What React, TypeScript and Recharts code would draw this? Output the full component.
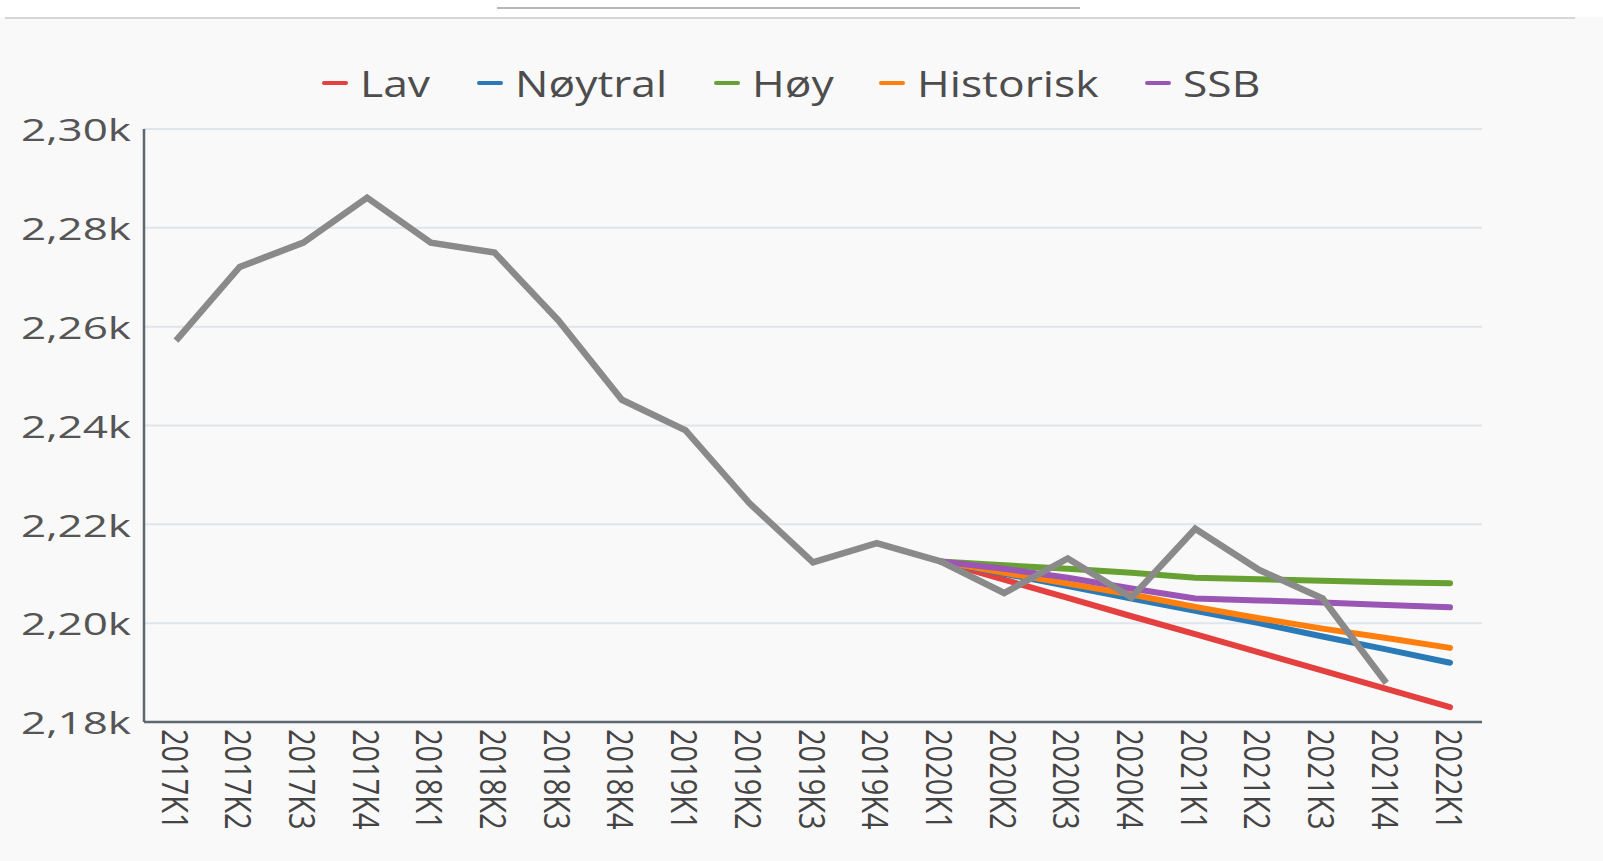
import { LineChart, Line, XAxis, YAxis, CartesianGrid } from "recharts";

const quarters = [
  "2017K1", "2017K2", "2017K3", "2017K4",
  "2018K1", "2018K2", "2018K3", "2018K4",
  "2019K1", "2019K2", "2019K3", "2019K4",
  "2020K1", "2020K2", "2020K3", "2020K4",
  "2021K1", "2021K2", "2021K3", "2021K4",
  "2022K1",
];

// observed values, ends at 2021K4
const actual = [
  2257.2, 2272.1, 2277, 2286.1, 2277, 2275, 2261.3, 2245.2, 2239, 2224.3,
  2212.3, 2216.2, 2212.5, 2206.1, 2213.1, 2205.2, 2219.1, 2210.8, 2205,
  2187.9, null,
];

// scenarios start at 2020K1
const lav = [2212.5, 2208.8, 2205.1, 2201.4, 2197.8, 2194.1, 2190.4, 2186.7, 2183.0];
const noytral = [2212.5, 2210, 2207.5, 2205, 2202.5, 2200, 2197.3, 2194.7, 2192];
const hoy = [2212.5, 2211.7, 2211, 2210.2, 2209.2, 2208.9, 2208.6, 2208.3, 2208.1];
const historisk = [2212.5, 2210.2, 2208, 2205.8, 2203.3, 2201, 2198.9, 2197, 2195];
const ssb = [2212.5, 2211, 2209.2, 2207, 2205, 2204.6, 2204.2, 2203.7, 2203.2];

const yTicks = [2180, 2200, 2220, 2240, 2260, 2280, 2300];

const scenarios = [
  { key: "lav", name: "Lav", color: "#e3403f", values: lav },
  { key: "noytral", name: "Nøytral", color: "#2a7ab8", values: noytral },
  { key: "hoy", name: "Høy", color: "#67a033", values: hoy },
  { key: "historisk", name: "Historisk", color: "#ff7f0e", values: historisk },
  { key: "ssb", name: "SSB", color: "#9a55b5", values: ssb },
];

const legendX = [322, 477, 714, 879, 1145];

const startIdx = quarters.length - lav.length;

const data = quarters.map((q, i) => {
  const row: Record<string, any> = { q, actual: actual[i] };
  scenarios.forEach((s) => {
    row[s.key] = i >= startIdx ? s.values[i - startIdx] : null;
  });
  return row;
});

const fmt = (v: number) => (v / 1000).toFixed(2).replace(".", ",") + "k";

const font = "'Open Sans', sans-serif";

function YTick({ x, y, payload }: any) {
  return (
    <text
      transform={`translate(${x},${y}) scale(1.42,1)`}
      textAnchor="end"
      dominantBaseline="central"
      fontSize={31}
      fill="#555"
      fontFamily={font}
    >
      {fmt(payload.value)}
    </text>
  );
}

function XTick({ x, y, payload }: any) {
  return (
    <text
      transform={`translate(${x},${y}) scale(1.28,1) rotate(90)`}
      textAnchor="start"
      dominantBaseline="central"
      fontSize={29}
      fill="#444"
      fontFamily={font}
    >
      {payload.value}
    </text>
  );
}

export default function App() {
  return (
    <div
      style={{
        position: "fixed",
        left: 0,
        top: 0,
        width: 1603,
        height: 861,
        background: "#f9f9f9",
        overflow: "hidden",
      }}
    >
      <div style={{ position: "absolute", left: 0, top: 0, width: 1603, height: 17, background: "#fff" }} />
      <div style={{ position: "absolute", left: 497, top: 7, width: 583, height: 2, background: "#b8b8b8" }} />
      <div style={{ position: "absolute", left: 5, top: 17, width: 1570, height: 2, background: "#d6d6d6" }} />

      {scenarios.map((s, i) => (
        <div
          key={s.key}
          style={{ position: "absolute", left: legendX[i], top: 61, height: 44, display: "flex", alignItems: "center" }}
        >
          <div style={{ width: 26, height: 4, background: s.color, borderRadius: 2 }} />
          <span
            style={{
              marginLeft: 12,
              fontFamily: font,
              fontSize: 37,
              color: "#4d4d4d",
              display: "inline-block",
              transform: "scaleX(1.2)",
              transformOrigin: "left center",
              whiteSpace: "nowrap",
              lineHeight: "44px",
            }}
          >
            {s.name}
          </span>
        </div>
      ))}

      <div style={{ position: "absolute", left: 0, top: 0 }}>
        <LineChart width={1603} height={861} data={data} margin={{ top: 129, right: 121, left: 0, bottom: 0 }}>
          <CartesianGrid vertical={false} stroke="#dfe5ea" strokeWidth={2} />
          <XAxis
            dataKey="q"
            height={139}
            interval={0}
            padding={{ left: 32, right: 32 }}
            tickLine={false}
            tickSize={0}
            tickMargin={7}
            axisLine={{ stroke: "#5e6870", strokeWidth: 2.5 }}
            tick={<XTick />}
          />
          <YAxis
            width={144}
            domain={[2180, 2300]}
            ticks={yTicks}
            allowDataOverflow
            tickLine={false}
            tickSize={0}
            tickMargin={13}
            axisLine={{ stroke: "#5e6870", strokeWidth: 2.5 }}
            tick={<YTick />}
          />
          {scenarios.map((s) => (
            <Line
              key={s.key}
              dataKey={s.key}
              name={s.name}
              stroke={s.color}
              strokeWidth={6}
              strokeLinecap="round"
              dot={false}
              isAnimationActive={false}
            />
          ))}
          <Line
            dataKey="actual"
            name="Faktisk"
            stroke="#8a8a8a"
            strokeWidth={6.5}
            dot={false}
            isAnimationActive={false}
          />
        </LineChart>
      </div>
    </div>
  );
}
